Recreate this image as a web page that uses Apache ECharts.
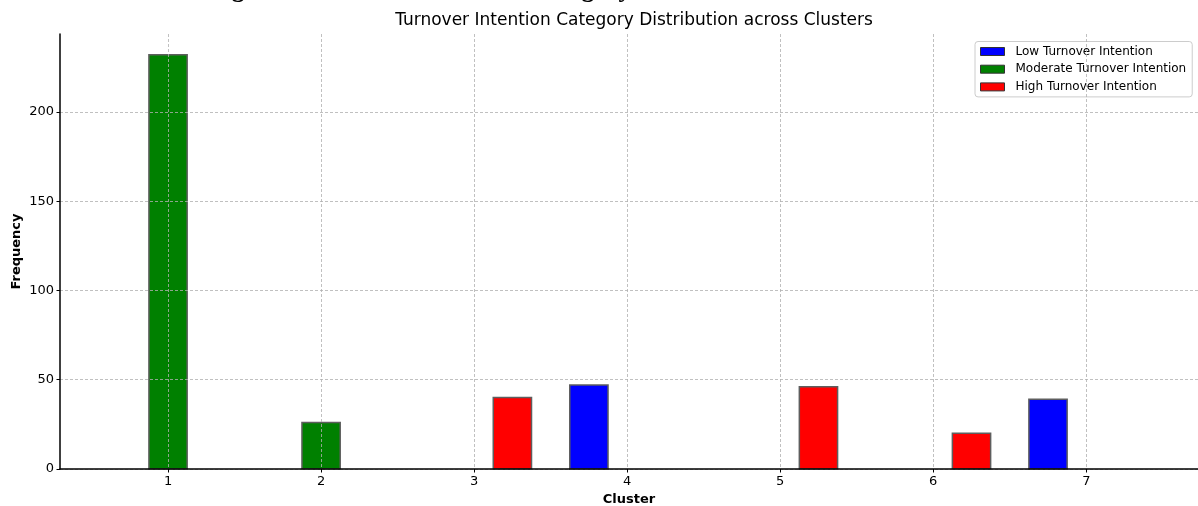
<!DOCTYPE html>
<html>
<head>
<meta charset="utf-8">
<script src="https://cdn.jsdelivr.net/npm/echarts@6/dist/echarts.min.js"></script>
<style>
  html, body { margin: 0; padding: 0; background: #fff; }
  #chart { width: 1198px; height: 506px; }
</style>
</head>
<body>
<div id="chart"></div>
<script>
// ---- data ----
const seriesNames = ['Low Turnover Intention', 'Moderate Turnover Intention', 'High Turnover Intention'];
const lowData = [[3.75, 47], [6.75, 39]];
const moderateData = [[1, 232], [2, 26]];
const highData = [[3.25, 40], [5.25, 46], [6.25, 20]];
const xTicks = [1, 2, 3, 4, 5, 6, 7];
const yTicks = [0, 50, 100, 150, 200];
const chartTitle = 'Turnover Intention Category Distribution across Clusters';
const cutTitle = 'Figure 4: Turnover Intention Category Distribution across Clusters';
const barWidthUnits = 0.25;

const colors = ['#0000ff', '#008000', '#ff0000'];

function renderBar(params, api) {
  const x = api.value(0), y = api.value(1);
  const p0 = api.coord([x - barWidthUnits / 2, y]);
  const p1 = api.coord([x + barWidthUnits / 2, 0]);
  return {
    type: 'rect',
    shape: { x: p0[0], y: p0[1], width: p1[0] - p0[0], height: p1[1] - p0[1] },
    style: { fill: api.visual('color'), stroke: '#5e5e5e', lineWidth: 1.5 }
  };
}

const chart = echarts.init(document.getElementById('chart'), null, { renderer: 'canvas' });
const gridLine = { show: true, lineStyle: { color: '#b0b0b0', type: [3, 2], width: 0.8 } };

chart.setOption({
  animation: false,
  backgroundColor: '#ffffff',
  title: {
    text: chartTitle,
    left: 629, textAlign: 'center', top: 7,
    textStyle: { fontFamily: 'DejaVu Sans', fontSize: 17, fontWeight: 'normal', color: '#000' }
  },
  graphic: [{
    type: 'text', left: 209, top: -23,
    style: { text: cutTitle, font: 'bold 25.5px "Liberation Serif"', fill: '#000' }
  }],
  legend: {
    orient: 'vertical', left: 975, top: 41.5,
    padding: [4, 6, 4, 5],
    itemWidth: 24, itemHeight: 8, itemGap: 5.7,
    icon: 'rect',
    backgroundColor: 'rgba(255,255,255,0.85)',
    borderColor: '#cccccc', borderWidth: 1, borderRadius: 3,
    textStyle: { fontFamily: 'DejaVu Sans', fontSize: 12, color: '#000', lineHeight: 12, padding: [0, 0, 0, 6] },
    itemStyle: { borderColor: '#333', borderWidth: 1 },
    data: seriesNames
  },
  grid: { left: 60, right: 0, top: 34, bottom: 37, containLabel: false, outerBoundsMode: 'none' },
  xAxis: {
    type: 'value', min: 0.294, max: 7.73, z: 10,
    name: 'Cluster', nameLocation: 'middle', nameGap: 24, nameMoveOverlap: false,
    nameTextStyle: { fontFamily: 'DejaVu Sans', fontSize: 13, fontWeight: 'bold', color: '#000' },
    axisLine: { show: true, onZero: false, lineStyle: { color: '#000', width: 1.5 } },
    axisTick: { show: true, length: 3.5, customValues: xTicks, lineStyle: { color: '#000', width: 1 } },
    axisLabel: { customValues: xTicks, margin: 6, fontFamily: 'DejaVu Sans', fontSize: 13, color: '#000' },
    splitLine: gridLine
  },
  yAxis: {
    type: 'value', min: 0, max: 243.6, z: 10,
    name: 'Frequency', nameLocation: 'middle', nameGap: 37, nameRotate: 90, nameMoveOverlap: false,
    nameTextStyle: { fontFamily: 'DejaVu Sans', fontSize: 13, fontWeight: 'bold', color: '#000' },
    axisLine: { show: true, lineStyle: { color: '#000', width: 1.5 } },
    axisTick: { show: true, length: 3.5, customValues: yTicks, lineStyle: { color: '#000', width: 1 } },
    axisLabel: { customValues: yTicks, margin: 6, fontFamily: 'DejaVu Sans', fontSize: 13, color: '#000' },
    splitLine: gridLine
  },
  series: [
    { name: seriesNames[0], type: 'custom', renderItem: renderBar, data: lowData, itemStyle: { color: colors[0] }, encode: { x: 0, y: 1 } },
    { name: seriesNames[1], type: 'custom', renderItem: renderBar, data: moderateData, itemStyle: { color: colors[1] }, encode: { x: 0, y: 1 } },
    { name: seriesNames[2], type: 'custom', renderItem: renderBar, data: highData, itemStyle: { color: colors[2] }, encode: { x: 0, y: 1 } }
  ]
});
</script>
</body>
</html>
